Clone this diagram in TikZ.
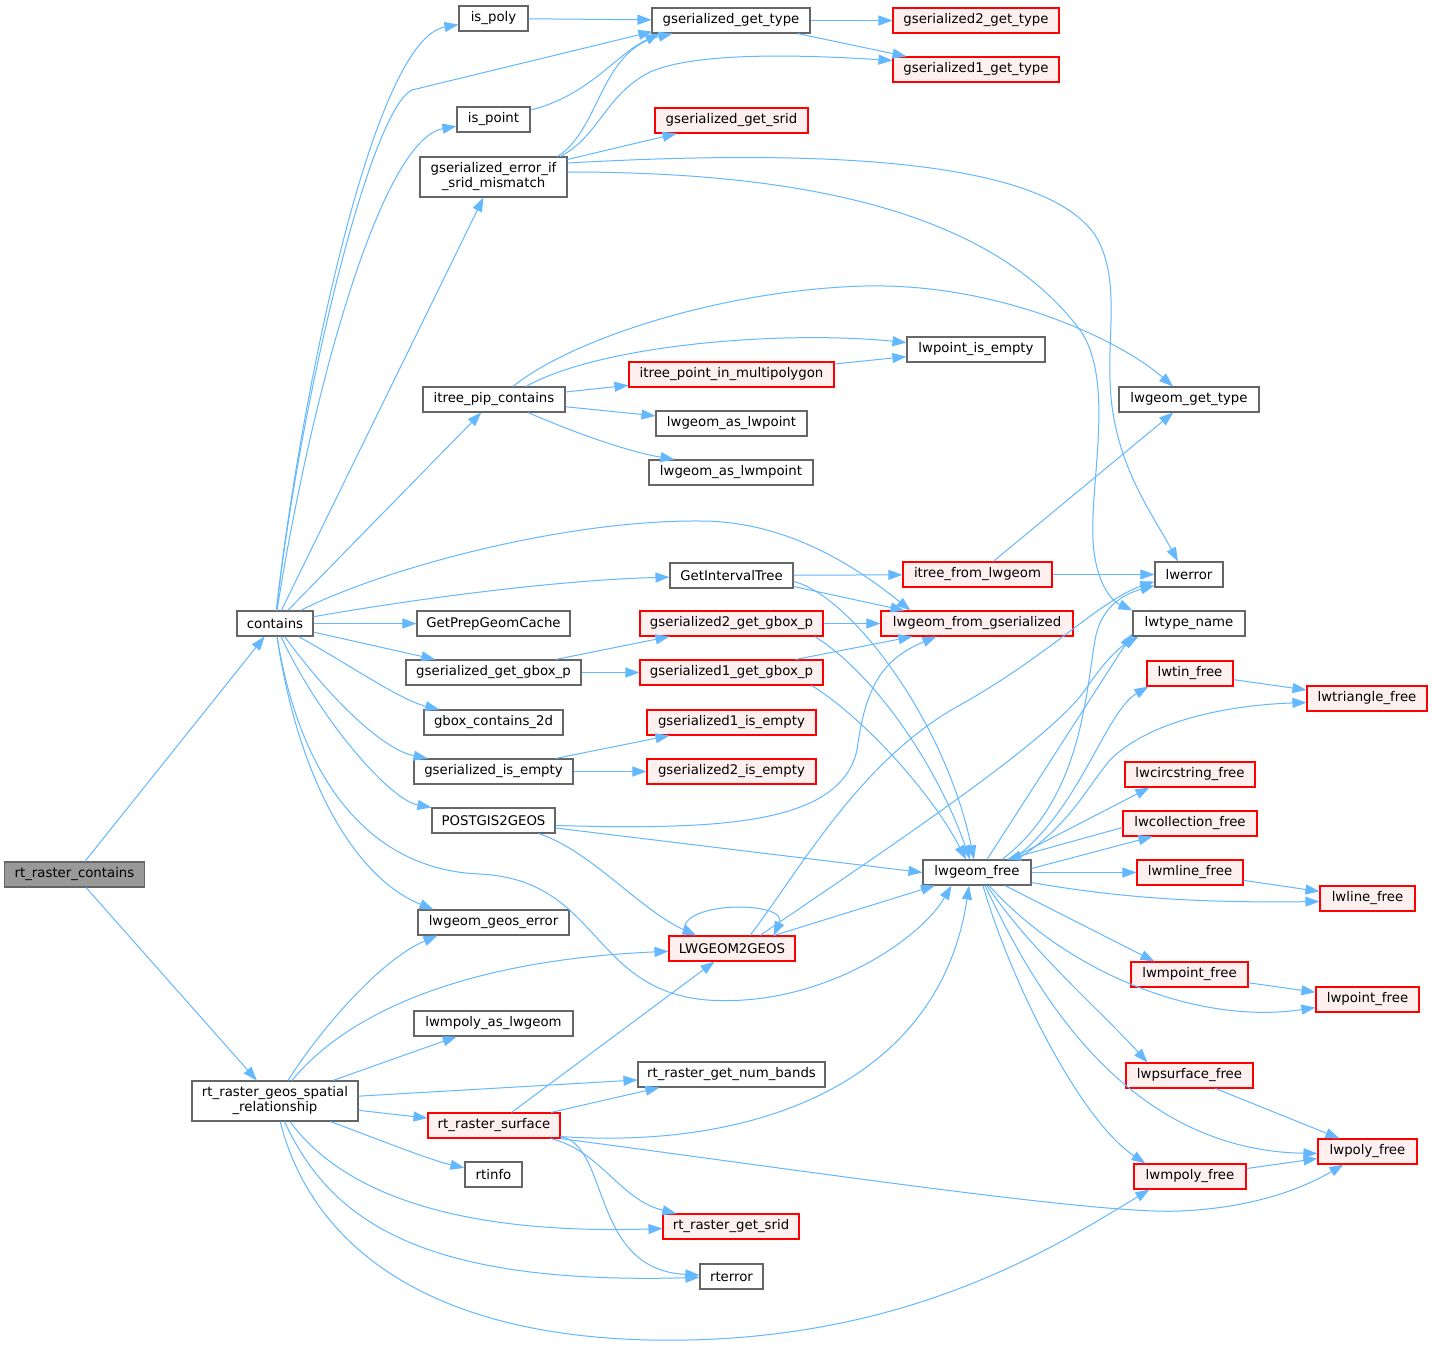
\documentclass[tikz,border=0pt]{standalone}
\usepackage{fontspec}
\setmainfont{DejaVu Sans}
\usetikzlibrary{arrows.meta}
\definecolor{edgec}{HTML}{63B8FF}
\definecolor{nodeborder}{HTML}{666666}
\definecolor{rootfill}{HTML}{999999}
\definecolor{redfill}{HTML}{FFF0F0}
\definecolor{redborder}{HTML}{FF0000}
\tikzset{
  nb/.style={draw=nodeborder, fill=white, line width=1.1pt, minimum height=25pt,
    inner xsep=2pt, inner ysep=0pt, text=black, align=center,
    font=\fontsize{13.3}{15}\selectfont},
  rb/.style={nb, draw=redborder, fill=redfill},
  rootbox/.style={nb, fill=rootfill},
  ed/.style={draw=edgec, line width=1pt, -{Triangle[length=14pt,width=10pt]}}
}
\begin{document}
\begin{tikzpicture}[x=1pt,y=-1pt]
\useasboundingbox[fill=white] (0,0) rectangle (1432,1346);
% column 1-2
\node[rootbox, minimum width=140pt] (root) at (74.5,874.5) {rt\_raster\_contains};
\node[nb, minimum width=76pt] (contains) at (275,623.5) {contains};
\node[nb, minimum width=166pt, minimum height=40pt] (rtgsr) at (275,1101) {rt\_raster\_geos\_spatial\\\_relationship};
% column 3
\node[nb, minimum width=69pt] (is_poly) at (493.5,18.5) {is\_poly};
\node[nb, minimum width=73pt] (is_point) at (493.5,119.5) {is\_point};
\node[nb, minimum width=147pt, minimum height=40pt] (gserr) at (493.5,177) {gserialized\_error\_if\\\_srid\_mismatch};
\node[nb, minimum width=142pt] (itreepip) at (494,399.5) {itree\_pip\_contains};
\node[nb, minimum width=153pt] (getprep) at (493.5,623.5) {GetPrepGeomCache};
\node[nb, minimum width=175pt] (ggboxp) at (493.5,672.5) {gserialized\_get\_gbox\_p};
\node[nb, minimum width=139pt] (gboxc2d) at (493.5,722.5) {gbox\_contains\_2d};
\node[nb, minimum width=159pt] (gisempty) at (493.5,771.5) {gserialized\_is\_empty};
\node[nb, minimum width=123pt] (pg2geos) at (493.5,820.5) {POSTGIS2GEOS};
\node[nb, minimum width=151pt] (geoserr) at (493.5,922.5) {lwgeom\_geos\_error};
\node[nb, minimum width=159pt] (mpolyas) at (493.5,1023.5) {lwmpoly\_as\_lwgeom};
\node[rb, minimum width=132pt] (rtsurf) at (494,1125.5) {rt\_raster\_surface};
\node[nb, minimum width=57pt] (rtinfo) at (493.5,1174.5) {rtinfo};
% column 4
\node[nb, minimum width=158pt] (gettype) at (731,20.5) {gserialized\_get\_type};
\node[rb, minimum width=153pt] (getsrid) at (731.5,120.5) {gserialized\_get\_srid};
\node[rb, minimum width=205pt] (itreepim) at (731.5,374.5) {itree\_point\_in\_multipolygon};
\node[nb, minimum width=151pt] (aslwpoint) at (731.5,423.5) {lwgeom\_as\_lwpoint};
\node[nb, minimum width=164pt] (aslwmpoint) at (731,472.5) {lwgeom\_as\_lwmpoint};
\node[nb, minimum width=123pt] (getitree) at (731.5,575.5) {GetIntervalTree};
\node[rb, minimum width=183pt] (g2gbox) at (731.5,623.5) {gserialized2\_get\_gbox\_p};
\node[rb, minimum width=183pt] (g1gbox) at (731.5,672.5) {gserialized1\_get\_gbox\_p};
\node[rb, minimum width=169pt] (g1empty) at (731.5,722.5) {gserialized1\_is\_empty};
\node[rb, minimum width=169pt] (g2empty) at (731.5,771.5) {gserialized2\_is\_empty};
\node[rb, minimum width=126pt] (l2g) at (732,948.5) {LWGEOM2GEOS};
\node[nb, minimum width=187pt] (numbands) at (731.5,1074.5) {rt\_raster\_get\_num\_bands};
\node[rb, minimum width=136pt] (rtgetsrid) at (731,1226.5) {rt\_raster\_get\_srid};
\node[nb, minimum width=63pt] (rterror) at (731.5,1276.5) {rterror};
% column 5
\node[rb, minimum width=166pt] (g2type) at (976,20.5) {gserialized2\_get\_type};
\node[rb, minimum width=166pt] (g1type) at (976,69.5) {gserialized1\_get\_type};
\node[nb, minimum width=138pt] (ptempty) at (976,349.5) {lwpoint\_is\_empty};
\node[rb, minimum width=149pt] (itreefrom) at (977.5,574.5) {itree\_from\_lwgeom};
\node[rb, minimum width=192pt] (fromgser) at (977,623.5) {lwgeom\_from\_gserialized};
\node[nb, minimum width=108pt] (lwfree) at (977,872.5) {lwgeom\_free};
% column 6
\node[nb, minimum width=140pt] (gettypelw) at (1189,399.5) {lwgeom\_get\_type};
\node[nb, minimum width=68pt] (lwerror) at (1189,574.5) {lwerror};
\node[nb, minimum width=112pt] (lwtype) at (1189,623.5) {lwtype\_name};
\node[rb, minimum width=86pt] (tinfree) at (1190,673.5) {lwtin\_free};
\node[rb, minimum width=130pt] (circfree) at (1190,774.5) {lwcircstring\_free};
\node[rb, minimum width=134pt] (collfree) at (1190,823.5) {lwcollection\_free};
\node[rb, minimum width=106pt] (mlinefree) at (1190,872.5) {lwmline\_free};
\node[rb, minimum width=117pt] (mptfree) at (1189.5,974.5) {lwmpoint\_free};
\node[rb, minimum width=127pt] (psurffree) at (1189.5,1075.5) {lwpsurface\_free};
\node[rb, minimum width=112pt] (mpolyfree) at (1190,1176.5) {lwmpoly\_free};
% column 7
\node[rb, minimum width=120pt] (trifree) at (1367,698.5) {lwtriangle\_free};
\node[rb, minimum width=95pt] (linefree) at (1367.5,898.5) {lwline\_free};
\node[rb, minimum width=103pt] (ptfree) at (1367.5,999.5) {lwpoint\_free};
\node[rb, minimum width=99pt] (polyfree) at (1367.5,1151.5) {lwpoly\_free};

% ---- edges ----
\draw[ed] (root) -- (contains);
\draw[ed] (root) -- (rtgsr);
% contains
\draw[ed] (contains) .. controls (297,420) and (370,40) .. (is_poly);
\draw[ed] (contains) .. controls (300,400) and (370,110) .. (412,90) -- ([xshift=1pt,yshift=2pt]gettype.south west);
\draw[ed] (contains) .. controls (310,400) and (380,140) .. (is_point);
\draw[ed] (contains) -- (gserr);
\draw[ed] (contains) -- (itreepip);
\draw[ed] (contains) .. controls (380,570) and (560,520) .. (700,521) .. controls (790,521) and (860,570) .. ([xshift=30pt]fromgser.north west);
\draw[ed] (contains) .. controls (420,598) and (560,580) .. (getitree);
\draw[ed] (contains) -- (getprep);
\draw[ed] (contains) -- (ggboxp);
\draw[ed] (contains) .. controls (350,665) and (400,700) .. (gboxc2d);
\draw[ed] (contains) .. controls (335,705) and (385,750) .. (gisempty);
\draw[ed] (contains) .. controls (320,720) and (390,800) .. (pg2geos.north west);
\draw[ed] (contains) .. controls (300,790) and (360,880) .. ([xshift=16pt]geoserr.north west);
\draw[ed] (contains) .. controls (300,780) and (370,870) .. (480,874) .. controls (600,880) and (590,990) .. (707,1000) .. controls (820,1008) and (920,940) .. ([xshift=29pt]lwfree.south west);
% rt_raster_geos_spatial_relationship
\draw[ed] (rtgsr) .. controls (320,1030) and (380,960) .. ([xshift=20pt]geoserr.south west);
\draw[ed] (rtgsr) .. controls (350,1010) and (470,960) .. (l2g);
\draw[ed] (rtgsr) -- (mpolyas);
\draw[ed] (rtgsr) -- (numbands);
\draw[ed] (rtgsr) -- (rtsurf);
\draw[ed] (rtgsr) .. controls (380,1140) and (430,1160) .. (rtinfo);
\draw[ed] (rtgsr) .. controls (340,1190) and (450,1235) .. (rtgetsrid);
\draw[ed] (rtgsr) .. controls (330,1220) and (420,1285) .. (rterror);
\draw[ed] (rtgsr) .. controls (310,1240) and (420,1335) .. (650,1340) .. controls (900,1345) and (1050,1250) .. ([xshift=16pt]mpolyfree.south west);
% rt_raster_surface
\draw[ed] (rtsurf) -- (l2g);
\draw[ed] (rtsurf) -- ([xshift=22pt]numbands.south west);
\draw[ed] ([yshift=2pt]rtsurf.south east) .. controls (760,1150) and (940,1080) .. ([xshift=-8pt]lwfree.south);
\draw[ed] (rtsurf.south east) .. controls (800,1170) and (1100,1215) .. (1180,1211) .. controls (1250,1208) and (1300,1190) .. ([xshift=26pt]polyfree.south west);
\draw[ed] (rtsurf) .. controls (600,1150) and (620,1200) .. (rtgetsrid);
\draw[ed] (rtsurf) .. controls (610,1145) and (590,1270) .. (rterror);
% gserialized_error_if_srid_mismatch
\draw[ed] ([xshift=-10pt]gserr.north east) .. controls (600,130) and (600,50) .. ([xshift=21pt]gettype.south west);
\draw[ed] ([xshift=-7pt]gserr.north east) .. controls (600,135) and (605,95) .. (650,72) .. controls (700,50) and (820,56) .. ([yshift=9pt]g1type.west);
\draw[ed] (gserr) -- (getsrid);
\draw[ed] ([yshift=14pt]gserr.east) .. controls (800,150) and (1040,155) .. (1095,235) .. controls (1120,275) and (1108,330) .. (1110,380) .. controls (1112,460) and (1150,510) .. ([xshift=-11pt]lwerror.north);
\draw[ed] ([yshift=5pt]gserr.east) .. controls (800,172) and (990,210) .. (1080,330) .. controls (1115,380) and (1090,480) .. (1093,540) .. controls (1095,580) and (1110,600) .. (lwtype.north west);
% is_poly, is_point, gserialized_get_type
\draw[ed] (is_poly) -- (gettype);
\draw[ed] (is_point) .. controls (590,95) and (615,55) .. ([xshift=8pt]gettype.south west);
\draw[ed] (gettype) -- (g2type);
\draw[ed] ([xshift=-13pt]gettype.south east) -- ([xshift=14pt]g1type.north west);
% itree_pip_contains
\draw[ed] ([xshift=19pt]itreepip.north) .. controls (570,340) and (720,290) .. (865,286) .. controls (1000,283) and (1120,340) .. ([xshift=-16pt]gettypelw.north);
\draw[ed] ([xshift=32pt]itreepip.north) .. controls (600,345) and (780,330) .. (ptempty);
\draw[ed] (itreepip) -- (itreepim);
\draw[ed] (itreepip) -- (aslwpoint);
\draw[ed] ([xshift=34pt]itreepip.south) .. controls (580,435) and (630,452) .. ([xshift=26pt]aslwmpoint.north west);
\draw[ed] (itreepim) -- (ptempty);
% GetIntervalTree
\draw[ed] (getitree) -- (itreefrom);
\draw[ed] ([yshift=-11pt]getitree.east) -- ([xshift=24pt]fromgser.north west);
\draw[ed] ([yshift=-6pt]getitree.east) .. controls (850,595) and (945,720) .. ([xshift=-3pt]lwfree.north);
% gbox
\draw[ed] (g2gbox) -- (fromgser);
\draw[ed] ([xshift=-9pt]g2gbox.south east) .. controls (870,670) and (935,760) .. ([xshift=-7pt]lwfree.north);
\draw[ed] ([xshift=-26pt]ggboxp.north east) -- ([xshift=30pt]g2gbox.south west);
\draw[ed] (ggboxp) -- (g1gbox);
\draw[ed] ([xshift=-28pt]g1gbox.north east) -- ([xshift=32pt]fromgser.south west);
\draw[ed] ([xshift=-12pt]g1gbox.south east) .. controls (860,715) and (930,790) .. ([xshift=-11pt]lwfree.north);
\draw[ed] ([xshift=-18pt]gisempty.north east) -- ([xshift=23pt]g1empty.south west);
\draw[ed] (gisempty) -- (g2empty);
% POSTGIS2GEOS
\draw[ed] ([yshift=-5pt]pg2geos.east) .. controls (720,830) and (840,825) .. (857,750) .. controls (865,690) and (880,660) .. ([xshift=56pt]fromgser.south west);
\draw[ed] (pg2geos) -- (lwfree.west);
\draw[ed] ([xshift=-17pt]pg2geos.south east) .. controls (590,850) and (640,910) .. ([xshift=28pt]l2g.north west);
% itree_from_lwgeom
\draw[ed] (itreefrom) -- (gettypelw);
\draw[ed] (itreefrom) -- (lwerror);
% LWGEOM2GEOS
\draw[ed] ([xshift=17pt]l2g.north west) .. controls (670,900) and (790,900) .. ([xshift=-22pt]l2g.north east);
\draw[ed] ([xshift=18pt]l2g.north) .. controls (800,870) and (860,760) .. (960,705) .. controls (1050,655) and (1100,600) .. ([yshift=6pt]lwerror.south west);
\draw[ed] ([xshift=28pt]l2g.north) .. controls (900,840) and (1050,740) .. (1085,690) .. controls (1100,668) and (1115,650) .. ([xshift=6pt]lwtype.south west);
\draw[ed] (l2g) -- (lwfree);
% lwgeom_free
\draw[ed] ([xshift=10pt]lwfree.north) -- ([yshift=3pt]lwtype.south west);
\draw[ed] ([xshift=25pt]lwfree.north) .. controls (1080,800) and (1085,700) .. (1095,640) .. controls (1100,610) and (1120,595) .. ([yshift=2pt]lwerror.south west);
\draw[ed] ([xshift=36pt]lwfree.north) .. controls (1080,810) and (1105,712) .. ([xshift=2pt]tinfree.south west);
\draw[ed] ([xshift=40pt]lwfree.north) .. controls (1070,825) and (1085,790) .. (1110,760) .. controls (1150,720) and (1230,705) .. ([yshift=-4pt]trifree.west);
\draw[ed] ([xshift=33pt]lwfree.north) -- ([xshift=25pt]circfree.south west);
\draw[ed] ([yshift=-4pt]collfree.west) -- ([xshift=30pt]lwfree.north);
\draw[ed] ([yshift=4pt]lwfree.east) -- ([xshift=30pt]collfree.south west);
\draw[ed] (lwfree) -- (mlinefree);
\draw[ed] ([yshift=-10pt]lwfree.east) .. controls (1120,898) and (1200,903) .. ([yshift=-3pt]linefree.west);
\draw[ed] ([xshift=28pt]lwfree.south) -- ([xshift=24pt]mptfree.north west);
\draw[ed] ([xshift=12pt]lwfree.south) .. controls (1070,975) and (1200,1025) .. ([yshift=-8pt]ptfree.west);
\draw[ed] ([xshift=10pt]lwfree.south) .. controls (1030,950) and (1100,1010) .. ([xshift=22pt]psurffree.north west);
\draw[ed] ([xshift=8pt]lwfree.south) .. controls (1030,980) and (1120,1150) .. ([yshift=-2pt]polyfree.west);
\draw[ed] ([xshift=6pt]lwfree.south) .. controls (1010,980) and (1080,1120) .. ([xshift=12pt]mpolyfree.north west);
% free functions
\draw[ed] (mptfree) -- (ptfree);
\draw[ed] ([xshift=-38pt]psurffree.south east) -- ([xshift=22pt]polyfree.north west);
\draw[ed] (mpolyfree) -- (polyfree);
\draw[ed] (mlinefree) -- (linefree);
\draw[ed] (tinfree) -- (trifree);
\end{tikzpicture}
\end{document}
